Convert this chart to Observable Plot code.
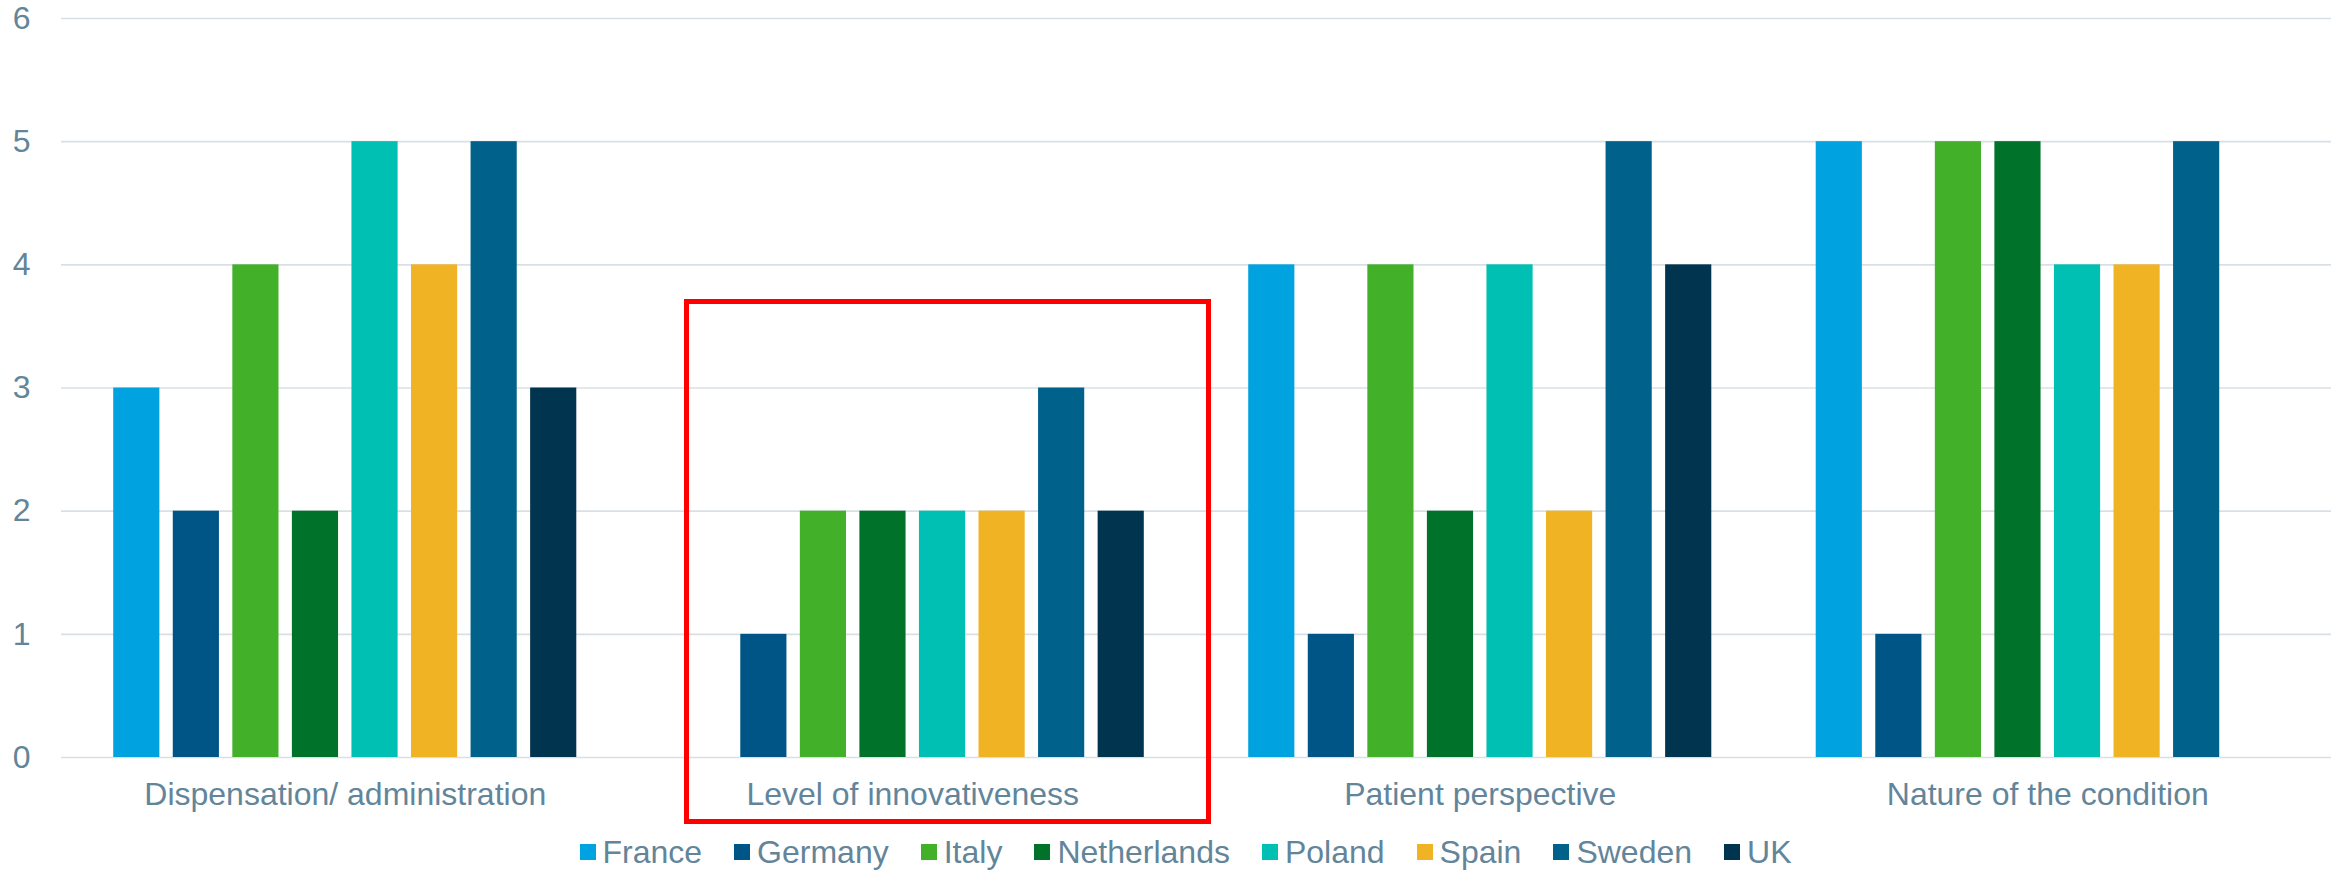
<!DOCTYPE html>
<html>
<head>
<meta charset="utf-8">
<script src="https://cdn.jsdelivr.net/npm/d3@7"></script>
<script src="https://cdn.jsdelivr.net/npm/@observablehq/plot@0.6"></script>
<style>
  html, body { margin: 0; padding: 0; background: #fff; }
  #wrap { position: relative; width: 2341px; height: 871px; overflow: hidden;
          font-family: "Liberation Sans", Arial, sans-serif; color: #62859A; }
  #bg, #fg { position: absolute; left: 0; top: 0; }
  #legend { position: absolute; left: 0; top: 836px; width: 2341px; height: 32px;
            display: flex; justify-content: center; align-items: center; gap: 32px;
            font-size: 32px; line-height: 32px; padding-left: 30px; box-sizing: border-box; }
  .item { display: flex; align-items: center; }
  .sw { width: 16px; height: 16px; margin-right: 7px; }
  #box { position: absolute; left: 684px; top: 299px; width: 527px; height: 525px;
         border: 5px solid #FF0000; box-sizing: border-box; }
</style>
</head>
<body>
<div id="wrap">
  <div id="bg"></div>
  <div id="fg"></div>
  <div id="legend"></div>
  <div id="box"></div>
</div>
<script>
// ---- data ----
const categories = ["Dispensation/ administration", "Level of innovativeness", "Patient perspective", "Nature of the condition"];
const countries = ["France", "Germany", "Italy", "Netherlands", "Poland", "Spain", "Sweden", "UK"];
const colors = ["#00A3E0", "#005587", "#43B02A", "#007229", "#00BFB3", "#F0B323", "#00628A", "#01344F"];
const france      = [3, 0, 4, 5];
const germany     = [2, 1, 1, 1];
const italy       = [4, 2, 4, 5];
const netherlands = [2, 2, 2, 5];
const poland      = [5, 2, 4, 4];
const spain       = [4, 2, 2, 4];
const sweden      = [5, 3, 5, 5];
const uk          = [3, 2, 4, 0];
const yTicks = [0, 1, 2, 3, 4, 5, 6];

const series = [france, germany, italy, netherlands, poland, spain, sweden, uk];
const data = [];
categories.forEach((cat, ci) => {
  countries.forEach((c, k) => {
    data.push({category: cat, country: c, value: series[k][ci]});
  });
});

const W = 2341, H = 820;
const common = {
  width: W, height: H,
  marginTop: 18, marginBottom: 63, marginLeft: 61, marginRight: 10,
  style: {fontSize: "32px", fontFamily: '"Liberation Sans", Arial, sans-serif', color: "#62859A", background: "transparent"}
};

// background: grid + y axis
const bg = Plot.plot({
  ...common,
  y: {domain: [0, 6], ticks: yTicks, tickFormat: d => String(d), tickSize: 0, tickPadding: 31, label: null},
  marks: [
    Plot.ruleY(yTicks, {stroke: "#D9E0E5", strokeWidth: 1.6})
  ]
});
document.getElementById("bg").appendChild(bg);

// foreground: bars faceted by category
const fg = Plot.plot({
  ...common,
  facet: {data: data, x: "category"},
  fx: {domain: categories, paddingInner: 0.184, paddingOuter: 0.092, round: false, label: null, tickSize: 0, tickPadding: 25, axis: "bottom"},
  x: {domain: countries, paddingInner: 0.225, paddingOuter: 0, round: false, axis: null},
  y: {domain: [0, 6], axis: null},
  color: {domain: countries, range: colors},
  marks: [
    Plot.barY(data, {x: "country", y: "value", fill: "country"})
  ]
});
document.getElementById("fg").appendChild(fg);

// legend
const lg = document.getElementById("legend");
countries.forEach((c, i) => {
  const item = document.createElement("div");
  item.className = "item";
  const sw = document.createElement("span");
  sw.className = "sw";
  sw.style.background = colors[i];
  const t = document.createElement("span");
  t.textContent = c;
  item.appendChild(sw);
  item.appendChild(t);
  lg.appendChild(item);
});
</script>
</body>
</html>
